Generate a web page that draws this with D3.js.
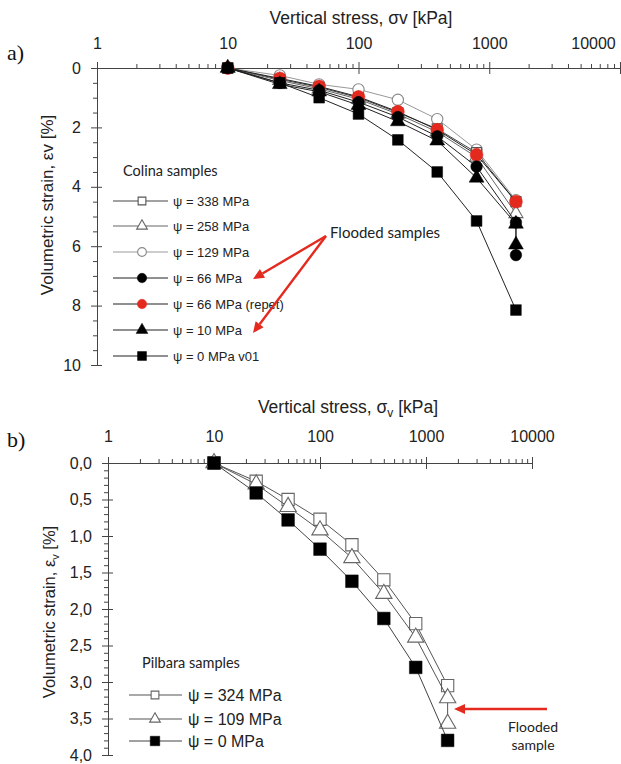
<!DOCTYPE html>
<html>
<head>
<meta charset="utf-8">
<script src="https://cdn.jsdelivr.net/npm/d3@7"></script>
<style>
  html, body { margin: 0; padding: 0; background: #fff; }
  svg { display: block; }
  .ax text { font-family: "Liberation Sans", Arial, sans-serif; fill: #222; }
  .ax path, .ax line { stroke: #444; stroke-width: 1; }
</style>
</head>
<body>
<svg id="fig" width="621" height="764"></svg>
<script>
// ---- Panel a: Colina samples ----
const colinaNames = ["ψ = 338 MPa", "ψ = 258 MPa", "ψ = 129 MPa", "ψ = 66 MPa", "ψ = 66 MPa (repet)", "ψ = 10 MPa", "ψ = 0 MPa v01"];
const colinaStress = [10, 25, 50, 100, 200, 400, 800, 1600];
const colina338 = [0, 0.38, 0.65, 1.0, 1.5, 2.05, 2.85, 4.5];
const colina258 = [0, 0.42, 0.7, 1.05, 1.55, 2.15, 3.0, 4.9];
const colina129 = [0, 0.25, 0.55, 0.72, 1.07, 1.72, 2.75, 4.45];
const colina66 = [0, 0.5, 0.75, 1.15, 1.65, 2.3, 3.32, 5.2, 6.3];   // last: flooded
const colina66r = [0, 0.35, 0.62, 0.97, 1.47, 2.08, 2.92, 4.5];
const colina10 = [0, 0.55, 0.8, 1.25, 1.8, 2.45, 3.7, 5.25, 5.95];  // last: flooded
const colina0 = [0, 0.5, 1.0, 1.55, 2.42, 3.5, 5.15, 8.15];
const colinaFloodStress = [10, 25, 50, 100, 200, 400, 800, 1600, 1600];

// ---- Panel b: Pilbara samples ----
const pilbaraNames = ["ψ = 324 MPa", "ψ = 109 MPa", "ψ = 0 MPa"];
const pilbaraStress = [10, 25, 50, 100, 200, 400, 800, 1600];
const pilbaraFloodStress = [10, 25, 50, 100, 200, 400, 800, 1600, 1600];
const pilbara324 = [0, 0.25, 0.5, 0.77, 1.12, 1.6, 2.2, 3.05];
const pilbara109 = [0, 0.29, 0.6, 0.92, 1.3, 1.79, 2.39, 3.22, 3.57]; // last: flooded
const pilbara0 = [0, 0.41, 0.78, 1.18, 1.62, 2.13, 2.8, 3.8];

const xMajorTicks = [1, 10, 100, 1000, 10000];
const yTicksA = [0, 2, 4, 6, 8, 10];
const yTicksB = [0, 0.5, 1.0, 1.5, 2.0, 2.5, 3.0, 3.5, 4.0];

const svg = d3.select("#fig");
const RED = "#e42a1f";

function minorLog(lo, hi) {
  const out = [];
  for (let d = lo; d < hi; d *= 10) for (let k = 2; k <= 9; k++) out.push(d * k);
  return out;
}

function drawAxes(g, x, y, opts) {
  // x axis on top: labels + crossing major ticks + upward minor ticks
  const y0 = y(0);
  const xa = g.append("g").attr("class", "ax").attr("transform", `translate(0,${y0})`);
  xa.call(d3.axisTop(x).tickValues(xMajorTicks).tickFormat(d3.format("d"))
      .tickSizeInner(6).tickSizeOuter(0).tickPadding(opts.xPad));
  xa.selectAll("text").style("font-size", "16px");
  g.append("g").attr("class", "ax").attr("transform", `translate(0,${y0})`)
    .call(d3.axisBottom(x).tickValues(xMajorTicks).tickFormat("").tickSize(6))
    .select(".domain").remove();
  g.append("g").attr("class", "ax").attr("transform", `translate(0,${y0})`)
    .call(d3.axisTop(x).tickValues(minorLog(1, 10000)).tickFormat("").tickSize(4))
    .select(".domain").remove();
  if (opts.lastLabelShift) {
    xa.selectAll(".tick").filter(d => d === 10000).select("text").attr("x", opts.lastLabelShift);
  }

  // y axis on left
  const x0 = x(1);
  const ya = g.append("g").attr("class", "ax").attr("transform", `translate(${x0},0)`);
  ya.call(d3.axisLeft(y).tickValues(opts.yTicks).tickFormat(opts.yFmt)
      .tickSizeInner(6).tickSizeOuter(0).tickPadding(opts.yPad));
  ya.selectAll("text").style("font-size", "16px");
  g.append("g").attr("class", "ax").attr("transform", `translate(${x0},0)`)
    .call(d3.axisRight(y).tickValues(opts.yTicks).tickFormat("").tickSize(5))
    .select(".domain").remove();
  g.append("g").attr("class", "ax").attr("transform", `translate(${x0},0)`)
    .call(d3.axisLeft(y).tickValues(opts.yMinor).tickFormat("").tickSize(4))
    .select(".domain").remove();
}

function drawSeries(g, x, y, s) {
  const pts = s.strain.map((v, i) => [s.stress[i], v]);
  g.append("path")
    .datum(pts)
    .attr("fill", "none")
    .attr("stroke", s.line)
    .attr("stroke-width", 1)
    .attr("d", d3.line().x(d => x(d[0])).y(d => y(d[1])));
  g.selectAll(null).data(pts).enter().append("path")
    .attr("transform", d => `translate(${x(d[0])},${y(d[1])})`)
    .attr("d", d3.symbol().type(s.symbol).size(s.size))
    .attr("fill", s.fill)
    .attr("stroke", s.stroke)
    .attr("stroke-width", s.sw);
}

function drawLegend(g, items, lx0, lx1, mx, tx, rows, fontSize) {
  items.forEach((s, i) => {
    const yy = rows[i];
    g.append("line").attr("x1", lx0).attr("x2", lx1).attr("y1", yy).attr("y2", yy)
      .attr("stroke", s.line).attr("stroke-width", 1.2);
    g.append("path").attr("transform", `translate(${mx},${yy})`)
      .attr("d", d3.symbol().type(s.symbol).size(s.legSize))
      .attr("fill", s.fill).attr("stroke", s.stroke).attr("stroke-width", s.sw);
    g.append("text").attr("x", tx).attr("y", yy).attr("dy", "0.36em")
      .style("font-family", "'Liberation Sans', Arial, sans-serif")
      .style("font-size", fontSize + "px").attr("fill", "#222").text(s.name);
  });
}

function arrow(g, x1, y1, x2, y2) {
  const ang = Math.atan2(y2 - y1, x2 - x1);
  const L = 11, W = 5;
  const bx = x2 - L * Math.cos(ang), by = y2 - L * Math.sin(ang);
  g.append("line").attr("x1", x1).attr("y1", y1).attr("x2", bx).attr("y2", by)
    .attr("stroke", RED).attr("stroke-width", 2.4);
  const px = -Math.sin(ang) * W, py = Math.cos(ang) * W;
  g.append("path")
    .attr("d", `M${x2},${y2}L${bx + px},${by + py}L${bx - px},${by - py}Z`)
    .attr("fill", RED);
}

// ================= Panel a =================
const ga = svg.append("g");
const xA = d3.scaleLog().domain([1, 10000]).range([97, 620]);
const yA = d3.scaleLinear().domain([0, 10]).range([68, 365]);

drawAxes(ga, xA, yA, {
  xPad: 13, yPad: 10, yTicks: yTicksA, yFmt: d3.format("d"),
  yMinor: d3.range(0.5, 10, 0.5).filter(v => v % 2 !== 0),
  lastLabelShift: -27
});

const seriesA = [
  { name: colinaNames[2], stress: colinaStress, strain: colina129, symbol: d3.symbolCircle, size: 100, legSize: 60, fill: "#fff", stroke: "#888", sw: 1.1, line: "#999" },
  { name: colinaNames[0], stress: colinaStress, strain: colina338, symbol: d3.symbolSquare, size: 100, legSize: 60, fill: "#fff", stroke: "#555", sw: 1.1, line: "#444" },
  { name: colinaNames[1], stress: colinaStress, strain: colina258, symbol: d3.symbolTriangle, size: 85, legSize: 50, fill: "#fff", stroke: "#666", sw: 1.1, line: "#666" },
  { name: colinaNames[4], stress: colinaStress, strain: colina66r, symbol: d3.symbolCircle, size: 130, legSize: 70, fill: RED, stroke: RED, sw: 0.5, line: "#222" },
  { name: colinaNames[3], stress: colinaFloodStress, strain: colina66, symbol: d3.symbolCircle, size: 105, legSize: 70, fill: "#000", stroke: "#000", sw: 0.5, line: "#222" },
  { name: colinaNames[5], stress: colinaFloodStress, strain: colina10, symbol: d3.symbolTriangle, size: 95, legSize: 60, fill: "#000", stroke: "#000", sw: 0.5, line: "#222" },
  { name: colinaNames[6], stress: colinaStress, strain: colina0, symbol: d3.symbolSquare, size: 115, legSize: 80, fill: "#000", stroke: "#000", sw: 0.5, line: "#222" }
];
seriesA.forEach(s => drawSeries(ga, xA, yA, s));

// axis titles
ga.append("text").attr("x", 361).attr("y", 24).attr("text-anchor", "middle")
  .style("font-family", "'Liberation Sans', Arial, sans-serif").style("font-size", "17.5px").attr("fill", "#222")
  .text("Vertical stress, σv [kPa]");
ga.append("text").attr("transform", "translate(53,205) rotate(-90)").attr("text-anchor", "middle")
  .style("font-family", "'Liberation Sans', Arial, sans-serif").style("font-size", "17px").attr("fill", "#222")
  .text("Volumetric strain, εv [%]");
ga.append("text").attr("x", 7).attr("y", 60)
  .style("font-family", "'Liberation Serif', serif").style("font-size", "22px").attr("fill", "#111").text("a)");

// legend a
ga.append("text").attr("x", 123).attr("y", 171).attr("dy", "0.36em")
  .style("font-family", "Lato, 'Open Sans', sans-serif").style("font-size", "14.5px").attr("fill", "#222")
  .text("Colina samples");
const legOrderA = [1, 2, 0, 4, 3, 5, 6].map(i => seriesA[i]);
drawLegend(ga, legOrderA, 113, 168, 142, 173, [201, 226, 252, 278, 304, 330, 356], 13);

ga.append("text").attr("x", 330).attr("y", 233).attr("dy", "0.36em")
  .style("font-family", "Lato, 'Open Sans', sans-serif").style("font-size", "15px").attr("fill", "#222")
  .text("Flooded samples");
arrow(ga, 326, 236, 253, 279);
arrow(ga, 326, 236, 253, 333);

// ================= Panel b =================
const gb = svg.append("g");
const xB = d3.scaleLog().domain([1, 10000]).range([108, 532]);
const yB = d3.scaleLinear().domain([0, 4]).range([463, 755]);

drawAxes(gb, xB, yB, {
  xPad: 15, yPad: 10, yTicks: yTicksB, yFmt: d => d3.format(".1f")(d).replace(".", ","),
  yMinor: d3.range(1, 40).filter(i => i % 5 !== 0).map(i => i / 10)
});

const seriesB = [
  { name: pilbaraNames[0], stress: pilbaraStress, strain: pilbara324, symbol: d3.symbolSquare, size: 150, legSize: 60, fill: "#fff", stroke: "#666", sw: 1.1, line: "#555" },
  { name: pilbaraNames[1], stress: pilbaraFloodStress, strain: pilbara109, symbol: d3.symbolTriangle, size: 115, legSize: 50, fill: "#fff", stroke: "#666", sw: 1.1, line: "#555" },
  { name: pilbaraNames[2], stress: pilbaraStress, strain: pilbara0, symbol: d3.symbolSquare, size: 160, legSize: 90, fill: "#000", stroke: "#000", sw: 0.5, line: "#444" }
];
seriesB.forEach(s => drawSeries(gb, xB, yB, s));

const tB = gb.append("text").attr("x", 348).attr("y", 413).attr("text-anchor", "middle")
  .style("font-family", "'Liberation Sans', Arial, sans-serif").style("font-size", "17.5px").attr("fill", "#222");
tB.append("tspan").text("Vertical stress, σ");
tB.append("tspan").attr("dy", 4).style("font-size", "12px").text("v");
tB.append("tspan").attr("dy", -4).text(" [kPa]");

const yl = gb.append("text").attr("transform", "translate(55,612) rotate(-90)").attr("text-anchor", "middle")
  .style("font-family", "'Liberation Sans', Arial, sans-serif").style("font-size", "16.5px").attr("fill", "#222");
yl.append("tspan").text("Volumetric strain, ε");
yl.append("tspan").attr("dy", 4).style("font-size", "11px").text("v");
yl.append("tspan").attr("dy", -4).text(" [%]");

gb.append("text").attr("x", 7).attr("y", 447)
  .style("font-family", "'Liberation Serif', serif").style("font-size", "22px").attr("fill", "#111").text("b)");

gb.append("text").attr("x", 142).attr("y", 663).attr("dy", "0.36em")
  .style("font-family", "Lato, 'Open Sans', sans-serif").style("font-size", "14.5px").attr("fill", "#222")
  .text("Pilbara samples");
drawLegend(gb, seriesB, 129, 182, 155, 188, [695, 719, 741], 16);

arrow(gb, 547, 709, 454, 709);
const fl = gb.append("text").attr("x", 533).attr("y", 727).attr("text-anchor", "middle")
  .style("font-family", "Lato, 'Open Sans', sans-serif").style("font-size", "14px").attr("fill", "#222");
fl.append("tspan").attr("x", 533).attr("dy", "0.36em").text("Flooded");
fl.append("tspan").attr("x", 533).attr("dy", "1.25em").text("sample");
</script>
</body>
</html>
